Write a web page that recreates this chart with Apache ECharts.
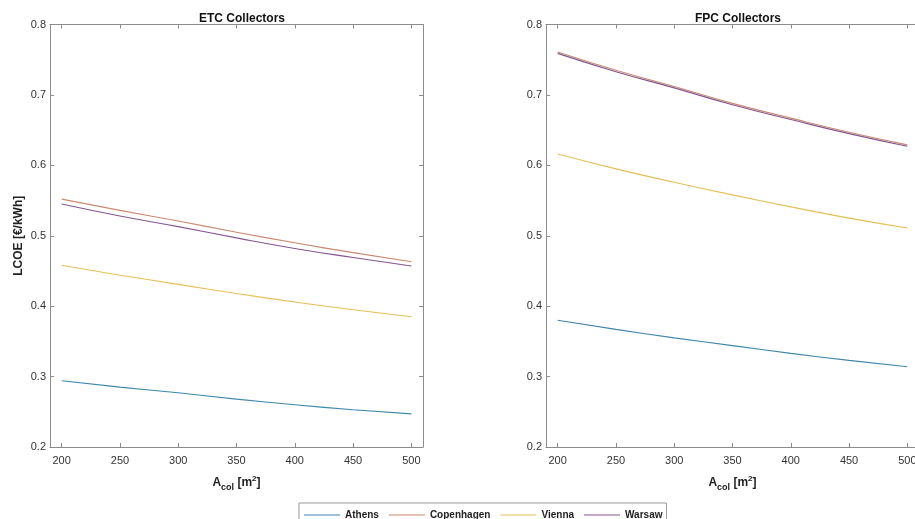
<!DOCTYPE html>
<html>
<head>
<meta charset="utf-8">
<script src="https://cdn.jsdelivr.net/npm/echarts@6/dist/echarts.min.js"></script>
<style>
  html, body { margin: 0; padding: 0; background: #fff; }
  #chart { width: 915px; height: 519px; }
</style>
</head>
<body>
<div id="chart"></div>
<script>
// Collector area values [m²]
const areas = [200, 250, 300, 350, 400, 450, 500];
const xTicks = [200, 250, 300, 350, 400, 450, 500];
const yTicks = [0.2, 0.3, 0.4, 0.5, 0.6, 0.7, 0.8];
const cities = ['Athens', 'Copenhagen', 'Vienna', 'Warsaw'];

// LCOE [€/kWh], evacuated tube collectors
const etcAthens     = [0.294, 0.285, 0.277, 0.268, 0.260, 0.253, 0.247];
const etcCopenhagen = [0.552, 0.536, 0.521, 0.505, 0.490, 0.476, 0.463];
const etcVienna     = [0.458, 0.444, 0.431, 0.418, 0.406, 0.395, 0.385];
const etcWarsaw     = [0.545, 0.528, 0.513, 0.497, 0.482, 0.469, 0.457];

// LCOE [€/kWh], flat plate collectors
const fpcAthens     = [0.380, 0.367, 0.355, 0.344, 0.333, 0.323, 0.314];
const fpcCopenhagen = [0.761, 0.735, 0.712, 0.688, 0.667, 0.647, 0.629];
const fpcVienna     = [0.616, 0.595, 0.576, 0.558, 0.541, 0.525, 0.511];
const fpcWarsaw     = [0.759, 0.733, 0.710, 0.686, 0.665, 0.645, 0.627];

const colors = {
  Athens: '#3f86ad',
  Copenhagen: '#c98a70',
  Vienna: '#e6bf55',
  Warsaw: '#85558f'
};

const FONT = '"Liberation Sans", Arial, Helvetica, sans-serif';
const axisGray = '#8c8c8c';

function pairs(vals) { return areas.map((a, i) => [a, vals[i]]); }

const etc = { Athens: etcAthens, Copenhagen: etcCopenhagen, Vienna: etcVienna, Warsaw: etcWarsaw };
const fpc = { Athens: fpcAthens, Copenhagen: fpcCopenhagen, Vienna: fpcVienna, Warsaw: fpcWarsaw };

const xName = {
  name: '{b|A}{sub|col}{b| [m}{sup|2}{b|]}',
  nameLocation: 'middle',
  nameGap: 27,
  nameTextStyle: {
    rich: {
      b:   { fontFamily: FONT, fontSize: 12, fontWeight: 'bold', color: '#222', lineHeight: 16 },
      sub: { fontFamily: FONT, fontSize: 9, fontWeight: 'bold', color: '#222', padding: [9, 0, 0, 0] },
      sup: { fontFamily: FONT, fontSize: 8, fontWeight: 'bold', color: '#222', padding: [0, 0, 8, 0] }
    }
  }
};

// Both panels use 190..510; the right panel runs past the page edge.
function bottomX(gridIndex, withName) {
  const ax = {
    type: 'value', gridIndex, position: 'bottom', min: 190, max: 510,
    axisLine: { show: true, onZero: false, lineStyle: { color: axisGray, width: 1 } },
    axisTick: { show: true, inside: true, length: 4, customValues: xTicks, lineStyle: { color: axisGray } },
    axisLabel: { show: true, customValues: xTicks, margin: 8, color: '#333', fontFamily: FONT, fontSize: 11 },
    splitLine: { show: false }
  };
  if (withName) Object.assign(ax, xName);
  return ax;
}
function topX(gridIndex) {
  return {
    type: 'value', gridIndex, position: 'top', min: 190, max: 510,
    axisLine: { show: true, onZero: false, lineStyle: { color: axisGray, width: 1 } },
    axisTick: { show: true, inside: true, length: 4, customValues: xTicks, lineStyle: { color: axisGray } },
    axisLabel: { show: false },
    splitLine: { show: false }
  };
}
function leftY(gridIndex, withName) {
  const ax = {
    type: 'value', gridIndex, position: 'left', min: 0.2, max: 0.8,
    axisLine: { show: true, onZero: false, lineStyle: { color: axisGray, width: 1 } },
    axisTick: { show: true, inside: true, length: 4, customValues: yTicks, lineStyle: { color: axisGray } },
    axisLabel: { show: true, customValues: yTicks, margin: 4, color: '#333', fontFamily: FONT, fontSize: 11,
                 formatter: v => v.toFixed(1) },
    splitLine: { show: false }
  };
  if (withName) Object.assign(ax, {
    name: 'LCOE [€/kWh]', nameLocation: 'middle', nameGap: 25,
    nameTextStyle: { fontFamily: FONT, fontSize: 12, fontWeight: 'bold', color: '#222' }
  });
  return ax;
}
function rightY(gridIndex) {
  return {
    type: 'value', gridIndex, position: 'right', min: 0.2, max: 0.8,
    axisLine: { show: true, onZero: false, lineStyle: { color: axisGray, width: 1 } },
    axisTick: { show: true, inside: true, length: 4, customValues: yTicks, lineStyle: { color: axisGray } },
    axisLabel: { show: false },
    splitLine: { show: false }
  };
}

const series = [];
cities.forEach(c => {
  series.push({
    name: c, type: 'line', xAxisIndex: 0, yAxisIndex: 0, data: pairs(etc[c]),
    symbol: 'none', smooth: true, lineStyle: { color: colors[c], width: 1.1 }, itemStyle: { color: colors[c] }
  });
  series.push({
    name: c, type: 'line', xAxisIndex: 2, yAxisIndex: 2, data: pairs(fpc[c]),
    symbol: 'none', smooth: true, lineStyle: { color: colors[c], width: 1.1 }, itemStyle: { color: colors[c] }
  });
});

const option = {
  animation: false,
  backgroundColor: '#fff',
  title: [
    { text: 'ETC Collectors', left: 237, top: 8, textAlign: 'center',
      textStyle: { fontFamily: FONT, fontSize: 12, fontWeight: 'bold', color: '#111' } },
    { text: 'FPC Collectors', left: 733, top: 8, textAlign: 'center',
      textStyle: { fontFamily: FONT, fontSize: 12, fontWeight: 'bold', color: '#111' } }
  ],
  grid: [
    { left: 50, top: 24.5, width: 373, height: 422.5, containLabel: false, outerBoundsMode: 'none' },
    { left: 546, top: 24.5, width: 373, height: 422.5, containLabel: false, outerBoundsMode: 'none' }
  ],
  xAxis: [bottomX(0, true), topX(0), bottomX(1, true), topX(1)],
  yAxis: [leftY(0, true), rightY(0), leftY(1, false), rightY(1)],
  legend: {
    data: cities.map(c => ({ name: c, icon: 'rect', itemStyle: { color: colors[c] } })),
    left: 299, top: 503,
    orient: 'horizontal',
    itemWidth: 36, itemHeight: 1.2, itemGap: 10,
    padding: [7, 4, 8, 5],
    borderColor: '#999', borderWidth: 1, borderRadius: 0,
    backgroundColor: '#fff',
    textStyle: { fontFamily: FONT, fontSize: 10, fontWeight: 'bold', color: '#222' }
  },
  series
};

const chart = echarts.init(document.getElementById('chart'), null, { renderer: 'canvas' });
chart.setOption(option);
</script>
</body>
</html>
